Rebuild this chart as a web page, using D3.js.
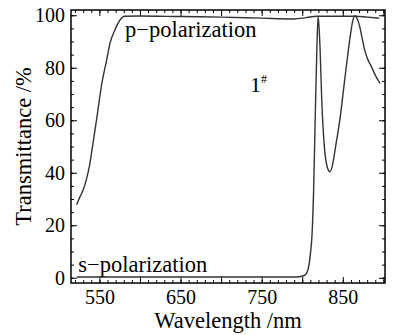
<!DOCTYPE html>
<html>
<head>
<meta charset="utf-8">
<script src="https://cdn.jsdelivr.net/npm/d3@7"></script>
<style>
  body { margin: 0; background: #fff; }
  text { font-family: "Liberation Serif", "Times New Roman", serif; fill: #000; }
</style>
</head>
<body>
<div id="chart"></div>
<script>
// p-polarization transmittance (wavelength nm, %)
const pWave  = [522, 526, 530, 534, 538, 542, 547, 553, 559, 563, 569, 575, 581, 600, 650, 700, 750, 790, 805, 818, 840, 866, 880, 895];
const pTrans = [27.8, 30.8, 33.5, 37.5, 43, 51, 61.3, 74, 83, 89.3, 94.3, 98, 99.6, 99.7, 99.5, 99.3, 98.9, 98.6, 99.1, 99.6, 99.6, 99.6, 99.3, 98.9];

// s-polarization transmittance
const sWave  = [522, 600, 700, 790, 798, 804, 808, 810, 812, 814, 816, 818, 819.5, 821, 822, 824, 827.5, 831, 834, 837, 840.6, 846.7, 852.8, 859, 862, 865, 868, 871, 874, 877, 881, 885, 890, 896];
const sTrans = [0.3, 0.3, 0.3, 0.3, 0.5, 1.2, 4.3, 9, 16, 33, 61, 87, 99.5, 94, 87, 68, 49, 42, 40.4, 42.5, 49, 61, 76.6, 91.7, 97.5, 99.8, 98.5, 95.5, 91, 86.7, 83, 80.6, 77.2, 74];

const xLabels = [550, 650, 750, 850];
const yLabels = [0, 20, 40, 60, 80, 100];

const margin = {top: 10, right: 10, bottom: 52, left: 71};
const W = 395, H = 335;
const width = W - margin.left - margin.right;
const height = H - margin.top - margin.bottom;

const svg = d3.select("#chart").append("svg")
    .attr("width", W)
    .attr("height", H);

const g = svg.append("g").attr("transform", `translate(${margin.left},${margin.top})`);

const x = d3.scaleLinear().domain([515, 902]).range([0, width]);
const y = d3.scaleLinear().domain([-2, 102]).range([height, 0]);

const xMinor = d3.range(520, 901, 10);
const xMajor = d3.range(550, 901, 50);
const yMinor = d3.range(0, 101, 5);

function styleAxis(sel) {
    sel.select(".domain").remove();
    sel.selectAll("line").attr("stroke", "#000").attr("stroke-width", 1);
    sel.selectAll("text").attr("font-size", 20).attr("fill", "#000")
        .style("font-family", '"Liberation Serif", serif');
}

// bottom
g.append("g").attr("transform", `translate(0,${height})`)
    .call(d3.axisBottom(x).tickValues(xMinor).tickSize(-3).tickFormat(""))
    .call(styleAxis);
g.append("g").attr("transform", `translate(0,${height})`)
    .call(d3.axisBottom(x).tickValues(xMajor).tickSize(-6).tickPadding(7)
        .tickFormat(d => xLabels.includes(d) ? d : ""))
    .call(styleAxis);
// top
g.append("g")
    .call(d3.axisTop(x).tickValues(xMinor).tickSize(-3).tickFormat(""))
    .call(styleAxis);
g.append("g")
    .call(d3.axisTop(x).tickValues(xMajor).tickSize(-6).tickFormat(""))
    .call(styleAxis);
// left
g.append("g")
    .call(d3.axisLeft(y).tickValues(yMinor).tickSize(-3).tickFormat(""))
    .call(styleAxis);
g.append("g")
    .call(d3.axisLeft(y).tickValues(yLabels).tickSize(-6).tickPadding(6))
    .call(styleAxis);
// right
g.append("g").attr("transform", `translate(${width},0)`)
    .call(d3.axisRight(y).tickValues(yMinor).tickSize(-3).tickFormat(""))
    .call(styleAxis);
g.append("g").attr("transform", `translate(${width},0)`)
    .call(d3.axisRight(y).tickValues(yLabels).tickSize(-6).tickFormat(""))
    .call(styleAxis);

// frame
g.append("rect")
    .attr("width", width).attr("height", height)
    .attr("fill", "none").attr("stroke", "#000").attr("stroke-width", 1.5);

const line = d3.line()
    .x(d => x(d[0]))
    .y(d => y(d[1]))
    .curve(d3.curveMonotoneX);

g.append("path")
    .datum(d3.zip(pWave, pTrans))
    .attr("d", line)
    .attr("fill", "none").attr("stroke", "#333").attr("stroke-width", 1.4);

g.append("path")
    .datum(d3.zip(sWave, sTrans))
    .attr("d", line)
    .attr("fill", "none").attr("stroke", "#333").attr("stroke-width", 1.4);

// annotations
g.append("text").attr("x", x(581.6)).attr("y", y(91.7))
    .attr("font-size", 22.5).text("p\u2212polarization");
g.append("text").attr("x", x(524)).attr("y", y(2.3))
    .attr("font-size", 22.5).text("s\u2212polarization");
const tag = g.append("text").attr("x", x(735.7)).attr("y", y(70.8)).attr("font-size", 22);
tag.append("tspan").text("1");
tag.append("tspan").attr("font-size", 12).attr("dy", -9).text("#");

// axis titles
svg.append("text")
    .attr("x", margin.left + width / 2)
    .attr("y", 328)
    .attr("text-anchor", "middle")
    .attr("font-size", 22.5)
    .text("Wavelength /nm");

svg.append("text")
    .attr("transform", `translate(31,${margin.top + height / 2}) rotate(-90)`)
    .attr("text-anchor", "middle")
    .attr("font-size", 22.5)
    .text("Transmittance /%");
</script>
</body>
</html>
